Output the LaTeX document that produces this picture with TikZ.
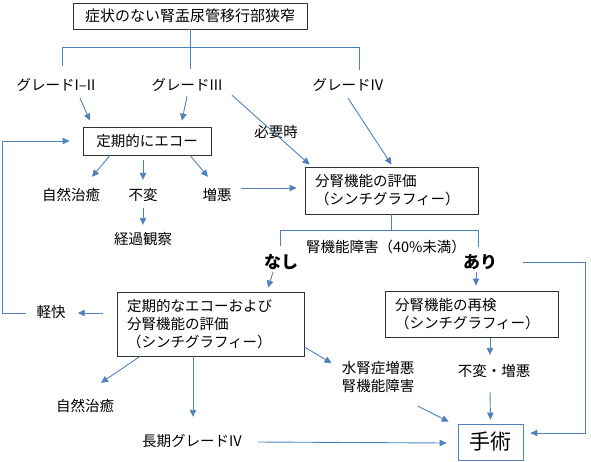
\documentclass[tikz,border=0pt]{standalone}
\usepackage{fontspec}
\setmainfont{Noto Sans CJK JP}
\usetikzlibrary{arrows.meta}
\definecolor{flowblue}{RGB}{79,129,189}

\begin{document}
\begin{tikzpicture}[x=1pt,y=-1pt]
                \tikzstyle{txt}=[inner sep=1pt, text height=11pt, text depth=3pt, font=\fontsize{14.5}{18}\selectfont]
                \tikzstyle{big}=[txt, font=\fontsize{17}{20}\selectfont\bfseries]
                \tikzstyle{box}=[draw=black!80, line width=0.8pt, inner sep=0pt, font=\fontsize{14.5}{18}\selectfont]
                \tikzstyle{lbox}=[box, inner xsep=10pt, align=left]
                \tikzstyle{lnk}=[draw=flowblue, line width=0.9pt]
                \tikzstyle{arr}=[lnk, -{Triangle[width=6.5pt,length=7pt]}]

                \useasboundingbox (0,0) rectangle (591,461);

                \node[box, minimum width=234pt, minimum height=26pt, font=\fontsize{15}{18}\selectfont] (top) at (190,16) {症状のない腎盂尿管移行部狭窄};
                \node[box, minimum width=128pt, minimum height=28pt] (echo) at (147,141) {定期的にエコー};
                \node[lbox, text width=153pt, minimum height=47pt] (eval) at (391.5,190.5) {分腎機能の評価\\（シンチグラフィー）};
                \node[lbox, text width=167pt, minimum height=64pt] (rec) at (210.5,324) {定期的なエコーおよび\\分腎機能の評価\\（シンチグラフィー）};
                \node[lbox, text width=153pt, minimum height=46pt] (rc) at (471.5,314) {分腎機能の再検\\（シンチグラフィー）};
                \node[box, draw=flowblue, minimum width=65pt, minimum height=36pt, font=\fontsize{21}{24}\selectfont] (ope) at (490.5,442) {手術};

                \node[txt] (g12) at (56,86) {グレードI–II};
                \node[txt] (g3) at (187,86) {グレードIII};
                \node[txt] (g4) at (348,86) {グレードIV};
                \node[txt] (need) at (276,133) {必要時};
                \node[txt] (n1) at (71,196) {自然治癒};
                \node[txt] (fh) at (143,196) {不変};
                \node[txt] (zo) at (217,196) {増悪};
                \node[txt] (kk) at (143,240) {経過観察};
                \node[txt] (crit) at (386,248) {腎機能障害（40\%未満）};
                \node[big] (nashi) at (281,264) {なし};
                \node[big] (ari) at (480,264) {あり};
                \node[txt] (kei) at (51,313) {軽快};
                \node[txt] (n2) at (85,407) {自然治癒};
                \node[txt] (lg) at (192,442) {長期グレードIV};
                \node[inner sep=1pt, align=left, font=\fontsize{14.5}{18}\selectfont] (hy) at (378,377) {水腎症増悪\\腎機能障害};
                \node[txt] (fz) at (494,372) {不変・増悪};

                \coordinate (tL) at (62,47);
                \coordinate (tR) at (359,47);
                \coordinate (tM) at (190,69);
                \coordinate (dL) at (62,66);
                \coordinate (dR) at (359,70);
                \coordinate (sL) at (280,230);
                \coordinate (sR) at (478,230);
                \coordinate (eL) at (280,246);
                \coordinate (eR) at (478,247);
                \coordinate (cR) at (585,262);
                \coordinate (cL) at (2,313);

                \draw[lnk] (top.south) -- (tM);
                \draw[lnk] (dL) -- (tL) -- (tR) -- (dR);
                \draw[lnk] (eval.south) -- (eval.south |- sL);
                \draw[lnk] (eL) -- (sL) -- (sR) -- (eR);

                \draw[arr] ([xshift=24pt,yshift=-4pt]g12.south) -- ([xshift=-57pt,yshift=6pt]echo.north);
                \draw[arr] ([yshift=-2pt]g3.south) -- ([xshift=35pt,yshift=6pt]echo.north);
                \draw[arr] ([xshift=45pt,yshift=-1pt]g3.south) -- ([xshift=5pt,yshift=2pt]eval.north west);
                \draw[arr] ([yshift=-4pt]g4.south) -- ([yshift=2pt]eval.north);
                \draw[arr] ([xshift=-37pt]echo.south) -- ([xshift=21pt,yshift=11pt]n1.north);
                \draw[arr] ([xshift=-4pt,yshift=-5pt]echo.south) -- ([yshift=8pt]fh.north);
                \draw[arr] ([xshift=43pt]echo.south) -- ([xshift=-9pt,yshift=11pt]zo.north);
                \draw[arr] ([yshift=-4pt]fh.south) -- ([yshift=7pt]kk.north);
                \draw[arr] ([xshift=8pt,yshift=8pt]zo.east) -- ([xshift=-8pt,yshift=2.5pt]eval.west);

                \draw[arr] ([xshift=-8pt]nashi.south) -- ([xshift=57.5pt,yshift=4pt]rec.north);
                \draw[arr] ([xshift=-4pt]ari.south) -- ([xshift=4.5pt,yshift=5pt]rc.north);
                \draw[arr] ([xshift=25pt,yshift=2pt]ari.east) -- (cR) |- ([xshift=7pt,yshift=9pt]ope.east);
                \draw[arr] ([xshift=-14pt,yshift=11pt]rec.west) -- ([xshift=11pt]kei.east);
                \draw[arr] ([xshift=-9pt]kei.west) -- (cL) |- ([xshift=-13pt]echo.west);
                \draw[arr] ([xshift=-70.5pt]rec.south) -- ([xshift=16pt,yshift=16pt]n2.north);
                \draw[arr] ([xshift=-17.5pt]rec.south) -- ([xshift=1pt,yshift=17pt]lg.north);
                \draw[arr] ([xshift=15pt]lg.east) -- ([xshift=-11pt,yshift=-1pt]ope.west);
                \draw[arr] ([yshift=-23pt]rec.east) -- ([xshift=-9pt,yshift=-3pt]hy.north west);
                \draw[arr] ([xshift=2pt,yshift=-12pt]hy.south east) -- ([xshift=-9pt,yshift=2pt]ope.north west);
                \draw[arr] ([xshift=18.5pt,yshift=-1pt]rc.south) -- ([xshift=-4pt,yshift=9pt]fz.north);
                \draw[arr] ([xshift=-4pt,yshift=-12pt]fz.south) -- ([yshift=4pt]ope.north);
            \end{tikzpicture}
\end{document}
